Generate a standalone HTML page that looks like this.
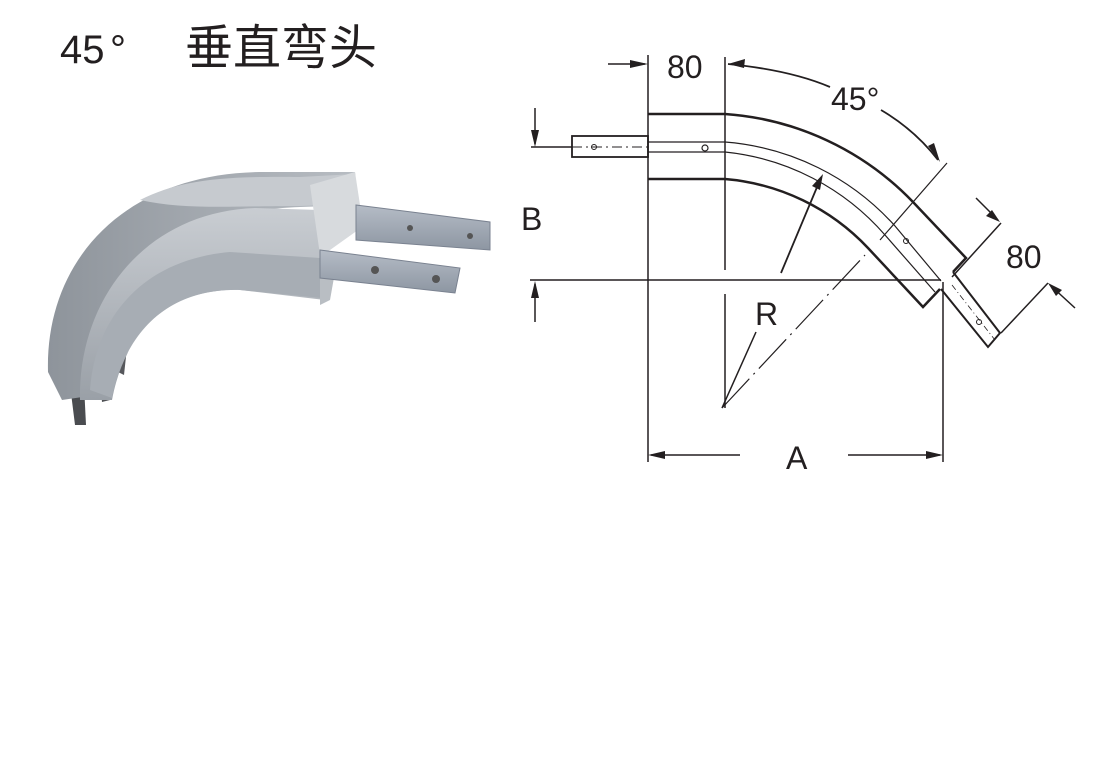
<!DOCTYPE html>
<html><head><meta charset="utf-8"><style>
html,body{margin:0;padding:0;background:#fff;}
body{width:1107px;height:775px;overflow:hidden;position:relative;}
svg{position:absolute;left:0;top:0;}
</style></head><body>
<svg width="1107" height="775" viewBox="0 0 1107 775" xmlns="http://www.w3.org/2000/svg">
<defs>
<linearGradient id="g1" x1="0" y1="0" x2="0" y2="1"><stop offset="0" stop-color="#c9cdd2"/><stop offset="1" stop-color="#9aa0a7"/></linearGradient>
<linearGradient id="g2" x1="0" y1="0" x2="1" y2="0"><stop offset="0" stop-color="#8e949b"/><stop offset="1" stop-color="#b8bdc3"/></linearGradient>
<linearGradient id="g3" x1="0" y1="0" x2="0" y2="1"><stop offset="0" stop-color="#b5bcc6"/><stop offset="1" stop-color="#8d96a2"/></linearGradient>
</defs>
<!-- title -->
<text x="60" y="63" font-family="Liberation Sans, sans-serif" font-size="40" fill="#231f20">45</text>
<text x="110" y="63" font-family="Liberation Sans, sans-serif" font-size="40" fill="#231f20">°</text>
<text x="185" y="64" font-family="Liberation Sans, 'Noto Sans CJK SC', sans-serif" font-size="48" fill="#231f20">垂直弯头</text>

<!-- photo -->
<g>
<path d="M70 385 L75 425 L86 425 L84 385 Z" fill="#4a4c50"/>
<path d="M100 380 L102 402 L110 400 L110 360 Z" fill="#4f5155"/>
<path d="M116 330 L118 372 L124 375 L130 320 Z" fill="#56585c"/>
<path d="M48 372 C45 260 125 172 265 172 L355 172 L358 205 L300 207 C195 210 108 270 96 395 L62 400 Z" fill="url(#g2)"/>
<path d="M140 200 C180 180 220 176 300 177 L355 174 L358 204 L300 206 C230 206 185 210 140 200 Z" fill="#c6cacf"/>
<path d="M80 400 C78 300 145 212 255 208 L320 210 L325 300 L240 290 C170 288 125 330 112 400 Z" fill="url(#g1)"/>
<path d="M90 390 C95 320 140 260 230 252 L320 258 L322 298 L240 290 C170 288 125 330 112 398 Z" fill="#a7adb4"/>
<path d="M310 185 L355 172 L360 205 L358 230 L330 250 L320 255 Z" fill="#d7dadd"/>
<path d="M320 250 L338 255 L330 300 L320 305 Z" fill="#b9bec3"/>
<path d="M356 205 L490 222 L490 250 L356 240 Z" fill="url(#g3)" stroke="#7a8290" stroke-width="1"/>
<path d="M320 250 L460 268 L455 293 L320 278 Z" fill="url(#g3)" stroke="#7a8290" stroke-width="1"/>
<circle cx="410" cy="228" r="3" fill="#555"/><circle cx="470" cy="236" r="3" fill="#555"/>
<circle cx="375" cy="270" r="4" fill="#555"/><circle cx="436" cy="279" r="4" fill="#555"/>
</g>

<!-- drawing -->
<g fill="none" stroke="#231f20" stroke-width="2">
<line x1="648" y1="55" x2="648" y2="462" stroke-width="1.5"/>
<line x1="725" y1="57" x2="725" y2="270" stroke-width="1.5"/>
<line x1="725" y1="294" x2="725" y2="408" stroke-width="1.5"/>
<line x1="943" y1="282" x2="943" y2="462" stroke-width="1.5"/>
<line x1="530" y1="280" x2="941" y2="280" stroke-width="1.5"/>
<rect x="572" y="136" width="76" height="21" stroke-width="1.8"/>
<path d="M648 114 L725 114 A288 288 0 0 1 913 202 L966 258 L953 272" stroke-width="2.5"/>
<path d="M648 179 L725 179 A222 222 0 0 1 868 248 L923 307 L940 289" stroke-width="2.5"/>
<path d="M648 142 L725 142 A255 255 0 0 1 895 226 L941 281" stroke-width="1.2"/>
<path d="M648 152 L725 152 A245 245 0 0 1 885 235 L935 292" stroke-width="1.2"/>
<path d="M953 272 L1000 333 L988 347 L941 289" stroke-width="2"/>
<line x1="952" y1="285" x2="995" y2="340" stroke-width="0.8" stroke-dasharray="6 3 1 3"/>
<line x1="572" y1="147" x2="648" y2="147" stroke-width="1" stroke-dasharray="10 4 2 4"/>
<circle cx="594" cy="147" r="2.5" stroke-width="1"/>
<circle cx="705" cy="148" r="3" stroke-width="1.2"/>
<circle cx="906" cy="241" r="2.5" stroke-width="1"/>
<circle cx="979" cy="322" r="2.5" stroke-width="1"/>
<line x1="608" y1="64" x2="645" y2="64" stroke-width="1.5"/>
<path d="M728 64 Q790 70 830 87" stroke-width="1.8"/>
<path d="M881 110 Q915 130 938 160" stroke-width="1.8"/>
<line x1="947" y1="163" x2="880" y2="240" stroke-width="1.2"/>
<line x1="976" y1="198" x2="998" y2="220" stroke-width="1.5"/>
<line x1="1001" y1="223" x2="952" y2="277" stroke-width="1.5"/>
<line x1="1048" y1="283" x2="1001" y2="333" stroke-width="1.5"/>
<line x1="1075" y1="308" x2="1050" y2="285" stroke-width="1.5"/>
<line x1="535" y1="108" x2="535" y2="144" stroke-width="1.5"/>
<line x1="531" y1="147" x2="572" y2="147" stroke-width="1.5"/>
<line x1="535" y1="322" x2="535" y2="284" stroke-width="1.5"/>
<line x1="781" y1="273" x2="820" y2="180" stroke-width="1.8"/>
<line x1="722" y1="408" x2="756" y2="332" stroke-width="1.5"/>
<line x1="722" y1="408" x2="865" y2="255" stroke-width="1.2" stroke-dasharray="40 6 2 6"/>
<line x1="651" y1="455" x2="740" y2="455" stroke-width="1.5"/>
<line x1="848" y1="455" x2="940" y2="455" stroke-width="1.5"/>
</g>
<g fill="#231f20">
<polygon points="648,64 630,60 630,68"/>
<polygon points="728,64 745,59 744,68"/>
<polygon points="940,162 928,146 934,143"/>
<polygon points="1000,222 986,216 992,210"/>
<polygon points="1048,283 1062,290 1056,296"/>
<polygon points="535,147 531,130 539,130"/>
<polygon points="535,281 531,298 539,298"/>
<polygon points="823,174 820,190 812,186"/>
<polygon points="648,455 665,451 665,459"/>
<polygon points="943,455 926,451 926,459"/>
</g>
<g font-family="Liberation Sans, sans-serif" font-size="32" fill="#231f20">
<text x="667" y="78">80</text>
<text x="831" y="110">45°</text>
<text x="1006" y="268">80</text>
<text x="521" y="230">B</text>
<text x="755" y="325">R</text>
<text x="786" y="469">A</text>
</g>
</svg>
</body></html>
